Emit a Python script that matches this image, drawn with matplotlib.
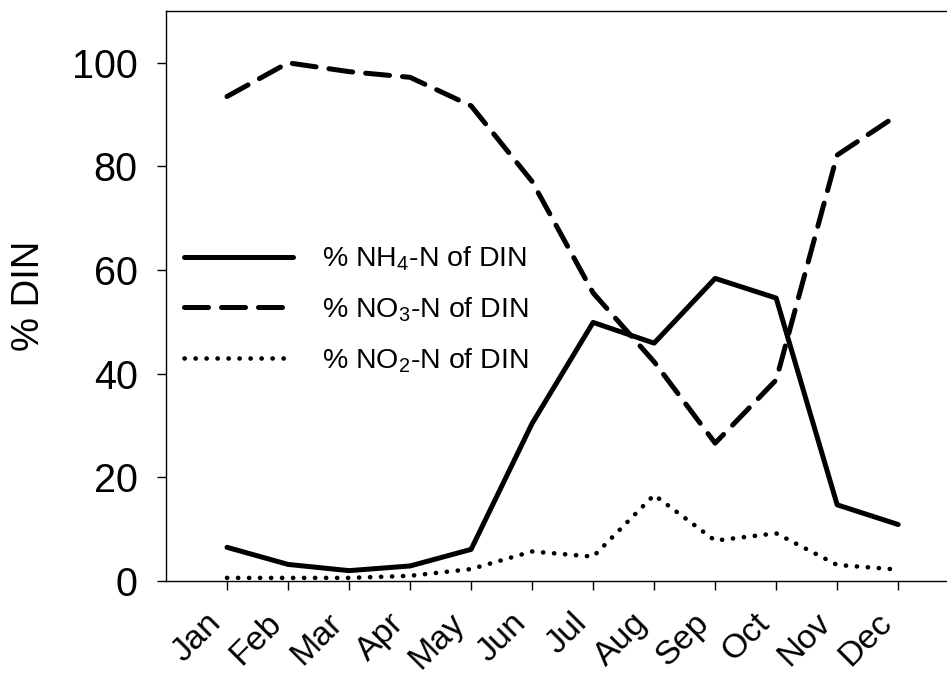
import numpy as np
import matplotlib.pyplot as plt
from matplotlib.transforms import ScaledTranslation

plt.rcParams['font.family'] = ['Liberation Sans', 'DejaVu Sans']
plt.rcParams['mathtext.fontset'] = 'custom'
plt.rcParams['mathtext.rm'] = 'Liberation Sans'
plt.rcParams['mathtext.it'] = 'Liberation Sans'

# --- Monthly share of DIN by nitrogen species (%) ---
months = ["Jan", "Feb", "Mar", "Apr", "May", "Jun",
          "Jul", "Aug", "Sep", "Oct", "Nov", "Dec"]
nh4 = [6.5, 3.2, 2.0, 2.9, 6.1, 30.4, 49.9, 45.9, 58.4, 54.6, 14.7, 10.9]
no3 = [93.5, 100.0, 98.3, 97.2, 91.7, 77.1, 55.6, 42.3, 26.6, 38.8, 82.2, 90.0]
no2 = [0.6, 0.6, 0.6, 1.0, 2.3, 5.7, 4.7, 16.6, 7.8, 9.2, 3.1, 2.2]

x = np.arange(len(months))

fig = plt.figure(figsize=(9.47, 6.73), dpi=100)
ax = fig.add_axes([166 / 947, 92 / 673, 781 / 947, 570 / 673])

ax.plot(x, nh4, color="black", lw=3.6, solid_capstyle="round",
        solid_joinstyle="round", label="% NH$_4$-N of DIN")
ax.plot(x, no3, color="black", lw=3.6, dashes=(4.8, 2.6),
        dash_capstyle="round", dash_joinstyle="round",
        label="% NO$_3$-N of DIN")
ax.plot(x, no2, color="black", lw=3.3, dashes=(0.05, 2.35),
        dash_capstyle="round", label="% NO$_2$-N of DIN")

ax.set_xlim(-1, 11.8)
ax.set_ylim(0, 110)
ax.set_yticks([0, 20, 40, 60, 80, 100])
ax.set_xticks(x)
ax.set_xticklabels(months, rotation=45, ha="right", va="top", fontsize=24.5)
shift = ScaledTranslation(9 / 100, 0, fig.dpi_scale_trans)
for lab in ax.get_xticklabels():
    lab.set_transform(lab.get_transform() + shift)
ax.tick_params(axis="y", labelsize=28.5, length=6.5, width=1, pad=14)
ax.tick_params(axis="x", length=6.5, width=1, pad=12.5)
ax.spines["right"].set_visible(False)
for s in ["left", "top", "bottom"]:
    ax.spines[s].set_linewidth(1)

ax.set_ylabel("% DIN", fontsize=27.5, labelpad=18)

ax.legend(loc="upper left", bbox_to_anchor=(-0.01, 0.635), frameon=False,
          fontsize=20.5, handlelength=3.85, handletextpad=1.0, labelspacing=0.78)

plt.savefig("out.png", dpi=100)
